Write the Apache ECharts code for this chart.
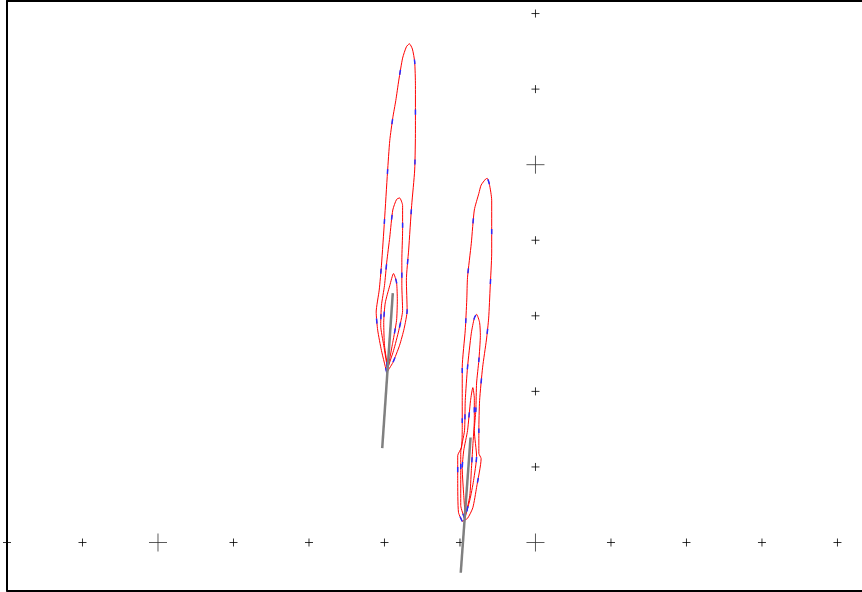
<!DOCTYPE html>
<html>
<head>
<meta charset="utf-8">
<script src="https://cdn.jsdelivr.net/npm/echarts@6/dist/echarts.min.js"></script>
<style>
  html, body { margin: 0; padding: 0; background: #fff; }
  #chart { width: 862px; height: 592px; }
</style>
</head>
<body>
<div id="chart"></div>
<script>
// unit marks along the two axes
var xTicks = [-7, -6, -5, -4, -3, -2, -1, 0, 1, 2, 3, 4];
var yTicks = [1, 2, 3, 4, 5, 6, 7];
var bigTicks = [[-5, 0], [0, 0], [0, 5]];

// left plume: three nested contours + stem
var leftOuter = [[-1.97, 2.25], [-2.04, 2.54], [-2.09, 2.81], [-2.11, 3.05], [-2.07, 3.34], [-2.04, 3.67],
  [-2.00, 4.26], [-1.96, 4.90], [-1.93, 5.32], [-1.89, 5.62], [-1.85, 5.85], [-1.81, 6.12], [-1.76, 6.41],
  [-1.71, 6.56], [-1.67, 6.60], [-1.63, 6.53], [-1.60, 6.36], [-1.59, 6.05], [-1.59, 5.46], [-1.60, 4.93],
  [-1.64, 4.46], [-1.68, 3.87], [-1.71, 3.47], [-1.70, 3.07], [-1.74, 2.83], [-1.80, 2.61], [-1.89, 2.38],
  [-1.97, 2.25]];
var leftMiddle = [[-1.96, 2.30], [-2.01, 2.61], [-2.05, 2.87], [-2.04, 3.14], [-2.00, 3.40], [-1.97, 3.71],
  [-1.93, 4.04], [-1.89, 4.40], [-1.84, 4.54], [-1.80, 4.56], [-1.76, 4.46], [-1.76, 4.13], [-1.77, 3.74],
  [-1.77, 3.40], [-1.76, 3.07], [-1.81, 2.81], [-1.88, 2.54], [-1.96, 2.30]];
var leftInner = [[-1.96, 2.33], [-2.00, 2.61], [-2.01, 2.91], [-1.99, 3.17], [-1.93, 3.40], [-1.88, 3.56],
  [-1.84, 3.44], [-1.83, 3.21], [-1.84, 2.94], [-1.89, 2.65], [-1.95, 2.33]];
var leftStem = [[-2.03, 1.25], [-1.89, 3.30]];

// right plume
var rightOuter = [[-0.97, 0.28], [-1.02, 0.40], [-1.03, 0.82], [-1.03, 1.15], [-0.98, 1.26], [-0.97, 1.52],
  [-0.97, 1.88], [-0.97, 2.32], [-0.93, 2.81], [-0.91, 3.21], [-0.90, 3.51], [-0.85, 3.96], [-0.81, 4.40],
  [-0.75, 4.62], [-0.72, 4.73], [-0.66, 4.81], [-0.64, 4.82], [-0.61, 4.74], [-0.58, 4.53], [-0.58, 3.83],
  [-0.60, 3.38], [-0.62, 2.97], [-0.65, 2.68], [-0.70, 2.32], [-0.74, 1.88], [-0.75, 1.48], [-0.75, 1.18],
  [-0.72, 1.11], [-0.78, 0.73], [-0.83, 0.46], [-0.90, 0.32], [-0.97, 0.28]];
var rightMiddle = [[-0.94, 0.32], [-0.99, 0.49], [-0.99, 0.93], [-0.99, 1.19], [-0.94, 1.48], [-0.93, 1.88],
  [-0.90, 2.32], [-0.85, 2.77], [-0.81, 2.97], [-0.78, 3.02], [-0.74, 2.91], [-0.73, 2.74], [-0.75, 2.41],
  [-0.78, 2.11], [-0.79, 1.75], [-0.81, 1.48], [-0.78, 1.14], [-0.82, 0.82], [-0.87, 0.56], [-0.94, 0.32]];
var rightInner = [[-0.93, 0.34], [-0.95, 0.62], [-0.97, 0.98], [-0.95, 1.22], [-0.90, 1.48], [-0.86, 1.88],
  [-0.83, 2.05], [-0.81, 1.91], [-0.81, 1.62], [-0.83, 1.28], [-0.85, 0.95], [-0.87, 0.62], [-0.93, 0.34]];
var rightStem = [[-0.99, -0.40], [-0.86, 1.39]];

function isBig(x, y) {
  return bigTicks.some(function (p) { return p[0] === x && p[1] === y; });
}
var smallTicks = xTicks.filter(function (x) { return !isBig(x, 0); }).map(function (x) { return [x, 0]; })
  .concat(yTicks.filter(function (y) { return !isBig(0, y); }).map(function (y) { return [0, y]; }));

var crossPath = 'path://M0,5L10,5M5,0L5,10';
var contours = [leftOuter, leftMiddle, leftInner, rightOuter, rightMiddle, rightInner];

var series = [{
  type: 'scatter',
  symbol: crossPath,
  symbolSize: 8,
  itemStyle: { color: 'rgba(0,0,0,0)', borderColor: '#000', borderWidth: 1 },
  data: smallTicks
}, {
  type: 'scatter',
  symbol: crossPath,
  symbolSize: 18,
  itemStyle: { color: 'rgba(0,0,0,0)', borderColor: '#333', borderWidth: 1 },
  data: bigTicks
}];

contours.forEach(function (c) {
  series.push({
    type: 'line',
    showSymbol: false,
    smooth: 0.2,
    z: 3,
    lineStyle: { color: '#ff0000', width: 1 },
    data: c
  });
  // the blue trace peeks through the red one in short dashes
  series.push({
    type: 'line',
    showSymbol: false,
    smooth: 0.2,
    z: 4,
    lineStyle: { color: '#2a2aff', width: 1.5, type: [5, 45] },
    data: c
  });
});

[leftStem, rightStem].forEach(function (s) {
  series.push({
    type: 'line',
    showSymbol: false,
    z: 5,
    lineStyle: { color: '#808080', width: 2.5 },
    data: s
  });
});

// frame on left, top and bottom only (picture is cut on the right)
var frameLine = { show: true, onZero: false, lineStyle: { color: '#000', width: 2 } };

var chart = echarts.init(document.getElementById('chart'));
chart.setOption({
  animation: false,
  backgroundColor: '#fff',
  grid: {
    left: 7,
    top: 1,
    right: 0,
    bottom: 1.5
  },
  xAxis: [{
    type: 'value',
    position: 'bottom',
    min: -7,
    max: 4.325,
    axisLine: frameLine,
    axisTick: { show: false },
    axisLabel: { show: false },
    splitLine: { show: false }
  }, {
    type: 'value',
    position: 'top',
    min: -7,
    max: 4.325,
    axisLine: frameLine,
    axisTick: { show: false },
    axisLabel: { show: false },
    splitLine: { show: false }
  }],
  yAxis: {
    type: 'value',
    position: 'left',
    min: -0.635,
    max: 7.166,
    axisLine: frameLine,
    axisTick: { show: false },
    axisLabel: { show: false },
    splitLine: { show: false }
  },
  series: series
});
</script>
</body>
</html>
